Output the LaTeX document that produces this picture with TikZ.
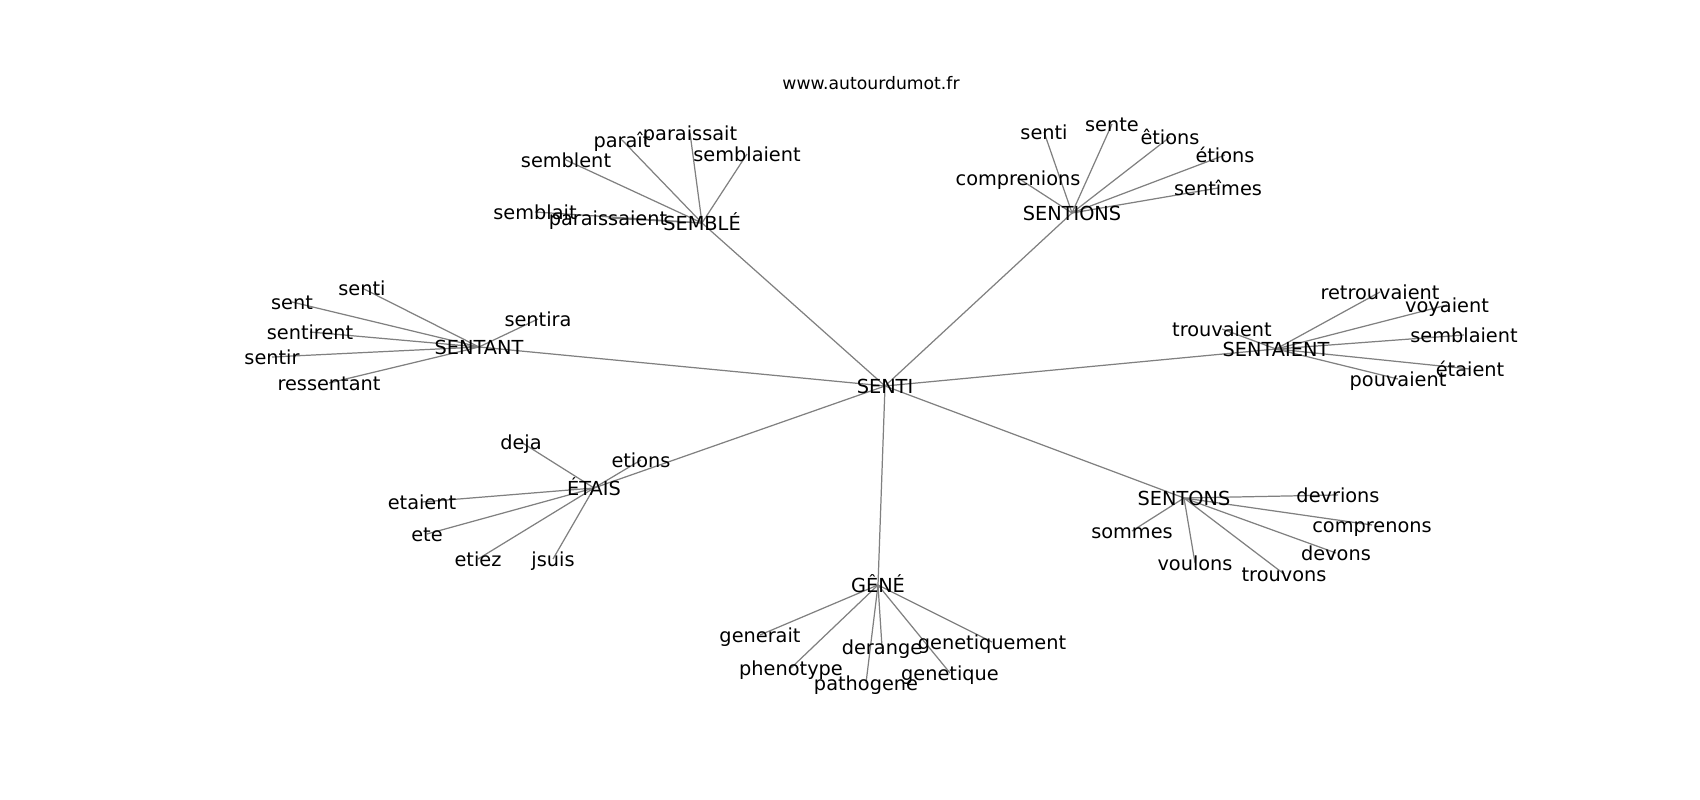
\documentclass[tikz,border=0pt]{standalone}
\usepackage{fontspec}
\setmainfont{DejaVu Sans}
\usetikzlibrary{backgrounds}

\begin{document}
\begin{tikzpicture}[x=0.02cm, y=-0.02cm,
  word/.style={inner sep=0pt, text height=0.9em, text depth=0.1em, font=\fontsize{11pt}{13pt}\selectfont},
  link/.style={draw=black!50, line width=0.7pt}]
 \useasboundingbox (0,0) rectangle (1700,800);

 \node (site) at (871,83) [inner sep=0pt, font=\fontsize{9.8pt}{12pt}\selectfont] {www.autourdumot.fr};

 % hubs
 \node (senti) at (885,386) [word] {SENTI};
 \node (semble) at (702,223) [word] {SEMBLÉ};
 \node (sentions) at (1072,213) [word] {SENTIONS};
 \node (sentant) at (479,347) [word] {SENTANT};
 \node (sentaient) at (1276,349) [word] {SENTAIENT};
 \node (etais) at (594,488) [word] {ÉTAIS};
 \node (sentons) at (1184,498) [word] {SENTONS};
 \node (gene) at (878,585) [word] {GÊNÉ};

 % SEMBLÉ
 \node (sb-paraissait) at (690,133) [word] {paraissait};
 \node (sb-parait) at (622,140) [word] {paraît};
 \node (sb-semblent) at (566,160) [word] {semblent};
 \node (sb-semblaient) at (747,154) [word] {semblaient};
 \node (sb-semblait) at (535,212) [word] {semblait};
 \node (sb-paraissaient) at (608,218) [word] {paraissaient};

 % SENTIONS
 \node (sn-senti) at (1044,132) [word] {senti};
 \node (sn-sente) at (1112,124) [word] {sente};
 \node (sn-comprenions) at (1018,178) [word] {comprenions};
 \node (sn-etions1) at (1170,137) [word] {êtions};
 \node (sn-etions2) at (1225,155) [word] {étions};
 \node (sn-sentimes) at (1218,188) [word] {sentîmes};

 % SENTANT
 \node (st-senti) at (362,288) [word] {senti};
 \node (st-sent) at (292,302) [word] {sent};
 \node (st-sentirent) at (310,332) [word] {sentirent};
 \node (st-sentir) at (272,357) [word] {sentir};
 \node (st-ressentant) at (329,383) [word] {ressentant};
 \node (st-sentira) at (538,319) [word] {sentira};

 % SENTAIENT
 \node (sa-trouvaient) at (1222,329) [word] {trouvaient};
 \node (sa-retrouvaient) at (1380,292) [word] {retrouvaient};
 \node (sa-voyaient) at (1447,305) [word] {voyaient};
 \node (sa-semblaient) at (1464,335) [word] {semblaient};
 \node (sa-etaient) at (1470,369) [word] {étaient};
 \node (sa-pouvaient) at (1398,379) [word] {pouvaient};

 % ÉTAIS
 \node (et-deja) at (521,442) [word] {deja};
 \node (et-etions) at (641,460) [word] {etions};
 \node (et-etaient) at (422,502) [word] {etaient};
 \node (et-ete) at (427,534) [word] {ete};
 \node (et-etiez) at (478,559) [word] {etiez};
 \node (et-jsuis) at (553,559) [word] {jsuis};

 % SENTONS
 \node (so-devrions) at (1338,495) [word] {devrions};
 \node (so-comprenons) at (1372,525) [word] {comprenons};
 \node (so-devons) at (1336,553) [word] {devons};
 \node (so-trouvons) at (1284,574) [word] {trouvons};
 \node (so-voulons) at (1195,563) [word] {voulons};
 \node (so-sommes) at (1132,531) [word] {sommes};

 % GÊNÉ
 \node (gn-generait) at (760,635) [word] {generait};
 \node (gn-phenotype) at (791,668) [word] {phenotype};
 \node (gn-pathogene) at (866,683) [word] {pathogene};
 \node (gn-derange) at (882,647) [word] {derange};
 \node (gn-genetiquement) at (992,642) [word] {genetiquement};
 \node (gn-genetique) at (950,673) [word] {genetique};

 \begin{scope}[on background layer]
 \begin{scope}[link]
 \draw[link] (senti.center) -- (semble.center);
 \draw[link] (senti.center) -- (sentions.center);
 \draw[link] (senti.center) -- (sentant.center);
 \draw[link] (senti.center) -- (sentaient.center);
 \draw[link] (senti.center) -- (etais.center);
 \draw[link] (senti.center) -- (sentons.center);
 \draw[link] (senti.center) -- (gene.center);

 \draw[link] (semble.center) -- (sb-paraissait.center);
 \draw[link] (semble.center) -- (sb-parait.center);
 \draw[link] (semble.center) -- (sb-semblent.center);
 \draw[link] (semble.center) -- (sb-semblaient.center);
 \draw[link] (semble.center) -- (sb-semblait.center);
 \draw[link] (semble.center) -- (sb-paraissaient.center);

 \draw[link] (sentions.center) -- (sn-senti.center);
 \draw[link] (sentions.center) -- (sn-sente.center);
 \draw[link] (sentions.center) -- (sn-comprenions.center);
 \draw[link] (sentions.center) -- (sn-etions1.center);
 \draw[link] (sentions.center) -- (sn-etions2.center);
 \draw[link] (sentions.center) -- (sn-sentimes.center);

 \draw[link] (sentant.center) -- (st-senti.center);
 \draw[link] (sentant.center) -- (st-sent.center);
 \draw[link] (sentant.center) -- (st-sentirent.center);
 \draw[link] (sentant.center) -- (st-sentir.center);
 \draw[link] (sentant.center) -- (st-ressentant.center);
 \draw[link] (sentant.center) -- (st-sentira.center);

 \draw[link] (sentaient.center) -- (sa-trouvaient.center);
 \draw[link] (sentaient.center) -- (sa-retrouvaient.center);
 \draw[link] (sentaient.center) -- (sa-voyaient.center);
 \draw[link] (sentaient.center) -- (sa-semblaient.center);
 \draw[link] (sentaient.center) -- (sa-etaient.center);
 \draw[link] (sentaient.center) -- (sa-pouvaient.center);

 \draw[link] (etais.center) -- (et-deja.center);
 \draw[link] (etais.center) -- (et-etions.center);
 \draw[link] (etais.center) -- (et-etaient.center);
 \draw[link] (etais.center) -- (et-ete.center);
 \draw[link] (etais.center) -- (et-etiez.center);
 \draw[link] (etais.center) -- (et-jsuis.center);

 \draw[link] (sentons.center) -- (so-devrions.center);
 \draw[link] (sentons.center) -- (so-comprenons.center);
 \draw[link] (sentons.center) -- (so-devons.center);
 \draw[link] (sentons.center) -- (so-trouvons.center);
 \draw[link] (sentons.center) -- (so-voulons.center);
 \draw[link] (sentons.center) -- (so-sommes.center);

 \draw[link] (gene.center) -- (gn-generait.center);
 \draw[link] (gene.center) -- (gn-phenotype.center);
 \draw[link] (gene.center) -- (gn-pathogene.center);
 \draw[link] (gene.center) -- (gn-derange.center);
 \draw[link] (gene.center) -- (gn-genetiquement.center);
 \draw[link] (gene.center) -- (gn-genetique.center);
 \end{scope}
 \end{scope}
\end{tikzpicture}
\end{document}
